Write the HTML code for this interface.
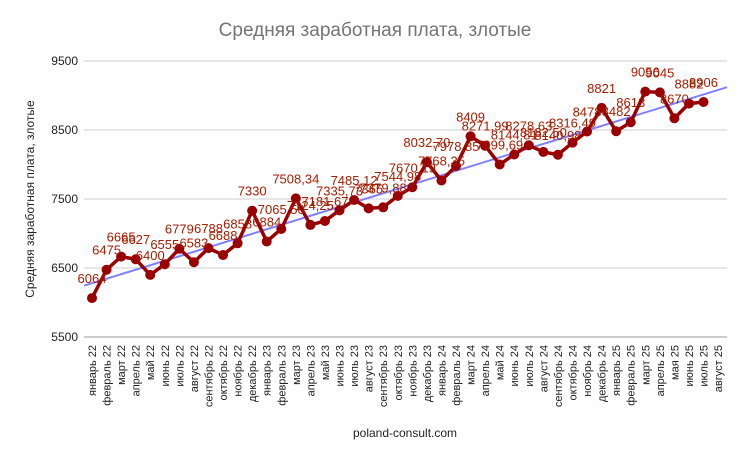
<!DOCTYPE html>
<html><head><meta charset="utf-8"><style>
body{margin:0;background:#fff;}
svg text{font-family:"Liberation Sans",Arial,sans-serif;}
</style></head><body>
<svg id="c" width="749" height="459" xmlns="http://www.w3.org/2000/svg">
<rect width="749" height="459" fill="#fff"/>
<text x="375" y="36" text-anchor="middle" font-size="19" fill="#757575">Средняя заработная плата, злотые</text>
<text transform="translate(34,199) rotate(-90)" text-anchor="middle" font-size="12" fill="#222">Средняя заработная плата, злотые</text>
<text x="405" y="437" text-anchor="middle" font-size="12" fill="#222">poland-consult.com</text>
<g id="grid"></g><g id="trend"></g><g id="series"></g><g id="labels"></g><g id="xt"></g>
</svg>
<script>
const categories=["январь 22","февраль 22","март 22","апрель 22","май 22","июнь 22","июль 22","август 22","сентябрь 22","октябрь 22","ноябрь 22","декабрь 22","январь 23","февраль 23","март 23","апрель 23","май 23","июнь 23","июль 23","август 23","сентябрь 23","октябрь 23","ноябрь 23","декабрь 23","январь 24","февраль 24","март 24","апрель 24","май 24","июнь 24","июль 24","август 24","сентябрь 24","октябрь 24","ноябрь 24","декабрь 24","январь 25","февраль 25","март 25","апрель 25","мая 25","июнь 25","июль 25","август 25"];
const values=[6064,6475,6665,6627,6400,6555,6779,6583,6788,6688,6858,7330,6884,7065.5,7508.34,7124.25,7181.67,7335.73,7485.12,7365,7379.88,7544.98,7670.19,8032.7,7768.35,7978.85,8409,8271.99,7999.69,8144.81,8278.63,8182.5,8140.98,8316.49,8478,8821,8482,8613,9056,9045,8670,8882,8906,null];
const valueLabels=["6064","6475","6665","6627","6400","6555","6779","6583","6788","6688","6858","7330","6884","7065,50","7508,34","7124,25","7181,67","7335,73","7485,12","7365","7379,88","7544,98","7670,19","8032,70","7768,35","7978,85","8409","8271,99","7999,69","8144,81","8278,63","8182,50","8140,98","8316,49","8478","8821","8482","8613","9056","9045","8670","8882","8906",""];
const yTicks=[5500,6500,7500,8500,9500];
const NS="http://www.w3.org/2000/svg";
const X0=92,STEP=14.56,Y0=337,PX=0.069;
const xs=i=>X0+i*STEP, ys=v=>Y0-(v-5500)*PX;
function mk(t,a,p){const e=document.createElementNS(NS,t);for(const k in a)e.setAttribute(k,a[k]);p.appendChild(e);return e;}
const grid=document.getElementById('grid');
yTicks.forEach(v=>{
 const l=mk('line',{x1:84,x2:727,y1:ys(v),y2:ys(v),stroke:v===5500?'#999':'#ccc','stroke-width':1},grid);
 
 
 const t=mk('text',{x:78,y:ys(v)+4,'text-anchor':'end','font-size':12,fill:'#222'},grid);t.textContent=v;
 
 
});
let n=0,sx=0,sy=0,sxx=0,sxy=0;
values.forEach((v,i)=>{if(v!=null){n++;sx+=i;sy+=v;sxx+=i*i;sxy+=i*v;}});
const b=(n*sxy-sx*sy)/(n*sxx-sx*sx),a=(sy-b*sx)/n;
const ia=(84-X0)/STEP,ib=(727-X0)/STEP;
const tl=mk('line',{x1:84,y1:ys(a+b*ia),x2:727,y2:ys(a+b*ib),stroke:'#8080ff','stroke-width':2},document.getElementById('trend'));


const ser=document.getElementById('series');
const pts=values.map((v,i)=>v==null?null:xs(i)+','+ys(v)).filter(p=>p);
const pl=mk('polyline',{points:pts.join(' '),fill:'none',stroke:'#990000','stroke-width':3.5,'stroke-linejoin':'round'},ser);


const lab=document.getElementById('labels');
values.forEach((v,i)=>{
 if(v==null)return;
 const c=mk('circle',{cx:xs(i),cy:ys(v),r:5,fill:'#990000'},ser);
 
 
 const t=mk('text',{x:xs(i),y:ys(v)-15,'text-anchor':'middle','font-size':13,fill:'#a61c00'},lab);t.textContent=valueLabels[i];
 
 
});
const xt=document.getElementById('xt');
categories.forEach((c,i)=>{
 const t=mk('text',{transform:`translate(${xs(i)+4},345) rotate(-90)`,'text-anchor':'end','font-size':11,fill:'#222'},xt);t.textContent=c;
 
 
});
</script>
</body></html>
